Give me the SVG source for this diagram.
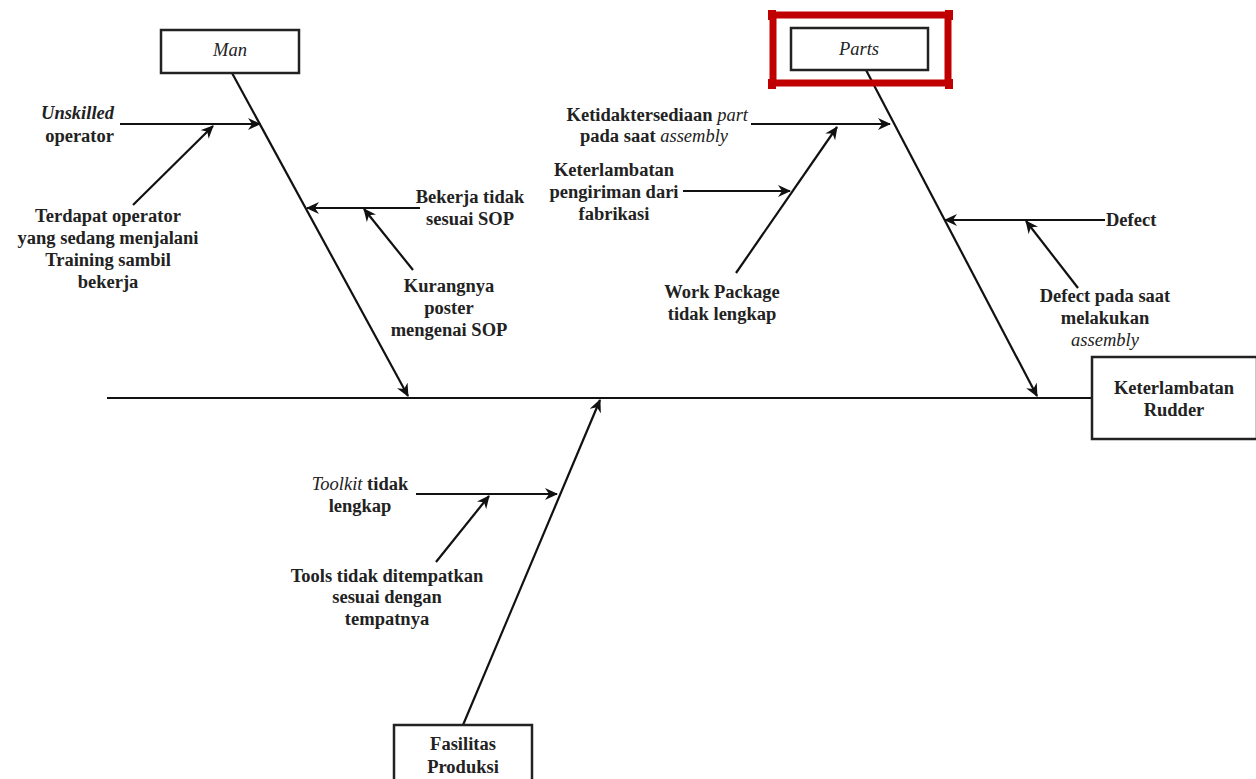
<svg xmlns="http://www.w3.org/2000/svg" width="1256" height="779" viewBox="0 0 1256 779">
<defs>
<style>
text{font-family:"Liberation Serif","DejaVu Serif Condensed","DejaVu Serif",serif;font-size:18.5px;font-weight:bold;fill:#222;text-anchor:middle}
.i{font-style:italic;font-weight:normal}
.ib{font-style:italic}
.l{stroke:#111;stroke-width:2.2;fill:none}
.a{stroke:#111;stroke-width:2.2;fill:none;marker-end:url(#ah)}
.box{fill:#fff;stroke:#222;stroke-width:2.5}
</style>
<marker id="ah" markerWidth="14" markerHeight="12" refX="12" refY="6" orient="auto" markerUnits="userSpaceOnUse">
<path d="M0,0 L13,6 L0,12 L4,6 Z" fill="#111"/>
</marker>
</defs>
<rect width="1256" height="779" fill="#fff"/>
<g id="connectors">
<line class="l" x1="107" y1="398" x2="1091" y2="398"/>
<line class="a" x1="232" y1="73" x2="408" y2="396"/>
<line class="a" x1="120" y1="124" x2="260" y2="124"/>
<line class="a" x1="133" y1="205" x2="213" y2="126"/>
<line class="a" x1="420" y1="208" x2="307" y2="208"/>
<line class="a" x1="413" y1="270" x2="364" y2="209"/>
<line class="a" x1="866" y1="70" x2="1037" y2="396"/>
<line class="a" x1="751" y1="124" x2="890" y2="124"/>
<line class="a" x1="736" y1="273" x2="837" y2="127"/>
<line class="a" x1="683" y1="191" x2="790" y2="191"/>
<line class="a" x1="1105" y1="220" x2="945" y2="220"/>
<line class="a" x1="1078" y1="288" x2="1026" y2="221"/>
<line class="a" x1="463" y1="725" x2="600" y2="400"/>
<line class="a" x1="416" y1="494" x2="557" y2="494"/>
<line class="a" x1="436" y1="562" x2="489" y2="496"/>
</g>
<g id="man">
<rect class="box" x="161" y="30" width="138" height="43"/>
<text class="i" x="230" y="56">Man</text>
</g>
<g id="parts">
<rect x="773" y="15" width="175" height="68" fill="none" stroke="#c00000" stroke-width="7"/>
<rect x="768" y="10" width="8" height="10" fill="#c00000"/>
<rect x="945" y="10" width="8" height="10" fill="#c00000"/>
<rect x="768" y="79" width="8" height="10" fill="#c00000"/>
<rect x="945" y="79" width="8" height="10" fill="#c00000"/>
<rect class="box" x="791" y="28" width="137" height="42"/>
<text class="i" x="859" y="55">Parts</text>
</g>
<g id="effect">
<rect class="box" x="1092" y="357" width="165" height="82"/>
<text x="1174" y="394">Keterlambatan</text>
<text x="1174" y="416">Rudder</text>
</g>
<g id="fasilitas">
<rect class="box" x="394" y="725" width="138" height="60"/>
<text x="463" y="750">Fasilitas</text>
<text x="463" y="773">Produksi</text>
</g>
<g id="c-unskilled">
<text class="ib" x="114" y="119" style="text-anchor:end">Unskilled</text>
<text x="114" y="142" style="text-anchor:end">operator</text>
</g>
<g id="c-terdapat">
<text x="108" y="222">Terdapat operator</text>
<text x="108" y="244">yang sedang menjalani</text>
<text x="108" y="266">Training sambil</text>
<text x="108" y="288">bekerja</text>
</g>
<g id="c-bekerja">
<text x="470" y="203">Bekerja tidak</text>
<text x="470" y="225">sesuai SOP</text>
</g>
<g id="c-kurangnya">
<text x="449" y="292">Kurangnya</text>
<text x="449" y="314">poster</text>
<text x="449" y="336">mengenai SOP</text>
</g>
<g id="c-ketidak">
<text x="748" y="121" style="text-anchor:end">Ketidaktersediaan <tspan class="i">part</tspan></text>
<text x="654" y="142">pada saat <tspan class="i">assembly</tspan></text>
</g>
<g id="c-keterlambatan">
<text x="614" y="176">Keterlambatan</text>
<text x="614" y="198">pengiriman dari</text>
<text x="614" y="220">fabrikasi</text>
</g>
<g id="c-work">
<text x="722" y="298">Work Package</text>
<text x="722" y="320">tidak lengkap</text>
</g>
<g id="c-defect">
<text x="1106" y="226" style="text-anchor:start">Defect</text>
</g>
<g id="c-defect2">
<text x="1105" y="302">Defect pada saat</text>
<text x="1105" y="324">melakukan</text>
<text class="i" x="1105" y="346">assembly</text>
</g>
<g id="c-toolkit">
<text x="360" y="490"><tspan class="i">Toolkit</tspan> tidak</text>
<text x="360" y="512">lengkap</text>
</g>
<g id="c-tools">
<text x="387" y="582">Tools tidak ditempatkan</text>
<text x="387" y="603">sesuai dengan</text>
<text x="387" y="625">tempatnya</text>
</g>
</svg>
